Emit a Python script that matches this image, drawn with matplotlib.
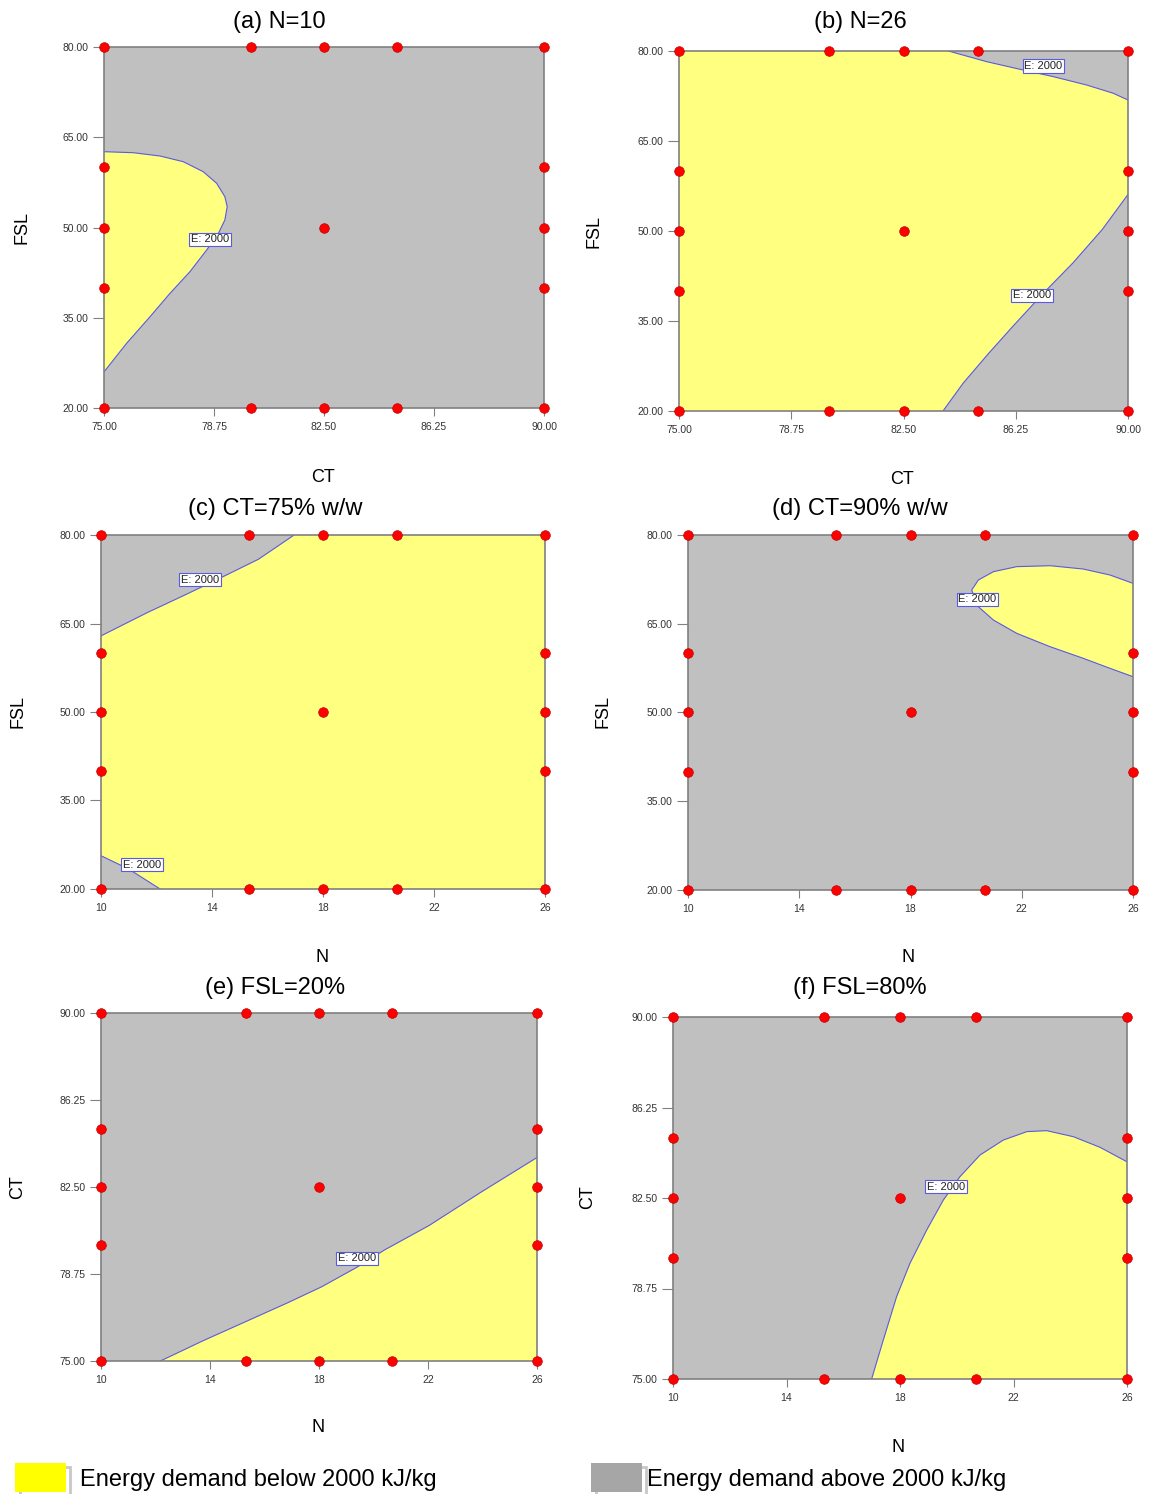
import matplotlib
matplotlib.use("Agg")
import matplotlib.pyplot as plt
from matplotlib.patches import Polygon, Rectangle

plt.rcParams['font.family'] = ['Liberation Sans', 'DejaVu Sans']

# ------------------------------
# data
# ------------------------------
# design points (same layout in every panel: 5 along top/bottom, 3 on each side, 1 centre)
ct_levels = [75, 80, 82.5, 85, 90]
fsl_levels = [20, 40, 50, 60, 80]
n_levels = [10, 15.33, 18, 20.67, 26]

# (a) N=10 : CT vs FSL, yellow pocket on the left
a_ct = [75.0, 76.0, 76.91, 77.70, 78.38, 78.84, 79.12, 79.20, 79.12, 78.90, 78.50, 77.93, 77.25,
        76.57, 75.77, 75.0]
a_fsl = [62.6, 62.43, 61.88, 60.94, 59.28, 57.35, 55.12, 53.46, 51.25, 49.03, 46.26, 42.66, 39.06,
         35.18, 30.75, 26.0]

# (b) N=26 : two grey corners on the right
b_top_ct = [84.0, 85.28, 86.39, 87.51, 88.62, 89.51, 90]
b_top_fsl = [80, 78.22, 76.95, 75.72, 74.33, 72.95, 71.83]
b_bot_ct = [83.82, 84.49, 85.35, 86.20, 87.18, 88.16, 89.14, 90]
b_bot_fsl = [20, 24.62, 29.64, 34.37, 39.67, 44.68, 50.25, 56.10]

# (c) CT=75 : N vs FSL, two grey corners on the left
c_top_n = [10, 11.67, 13.0, 14.33, 15.67, 16.96]
c_top_fsl = [62.9, 66.85, 69.78, 72.78, 75.88, 80]
c_bot_n = [10, 11.0, 12.13]
c_bot_fsl = [25.64, 23.38, 20]

# (d) CT=90 : yellow lobe at upper right
d_n = [26.0, 25.17, 24.21, 23.02, 21.82, 20.98, 20.44, 20.20, 20.44, 20.98, 21.82, 23.02, 24.21,
       25.17, 26.0]
d_fsl = [71.83, 73.24, 74.25, 74.81, 74.65, 73.80, 72.39, 70.70, 67.88, 65.63, 63.38, 61.12, 59.16,
         57.47, 56.05]

# (e) FSL=20 : N vs CT
e_n = [12.18, 13.74, 15.24, 16.87, 18.10, 19.39, 20.41, 22.04, 23.95, 26]
e_ct = [75.0, 75.87, 76.66, 77.52, 78.20, 79.04, 79.79, 80.84, 82.28, 83.77]

# (f) FSL=80 : N vs CT
f_n = [17.0, 17.41, 17.88, 18.35, 18.94, 19.53, 20.11, 20.82, 21.64, 22.47, 23.17, 24.11, 25.05, 26.0]
f_ct = [75.0, 76.61, 78.41, 79.79, 81.17, 82.42, 83.38, 84.28, 84.90, 85.25, 85.29, 85.04, 84.60, 84.0]

# "E: 2000" label positions
a_lab = [(78.61, 48.04)]
b_lab = [(87.17, 77.5), (86.79, 39.27)]
c_lab = [(13.57, 72.44), (11.47, 24.12)]
d_lab = [(20.41, 69.12)]
e_lab = [(19.39, 79.43)]
f_lab = [(19.62, 82.97)]

ct_ticks = [75, 78.75, 82.5, 86.25, 90]
fsl_ticks = [20, 35, 50, 65, 80]
n_ticks = [10, 14, 18, 22, 26]

YELLOW = "#FFFF80"
GREY = "#C0C0C0"
LINE = "#5A5AE0"

W, H = 1150, 1494
fig = plt.figure(figsize=(W / 100, H / 100), dpi=100)


def px_axes(l, t, r, b):
    return fig.add_axes([l / W, 1 - b / H, (r - l) / W, (b - t) / H])


def design_points(xl, yl):
    xs = xl + xl + [xl[0]] * 3 + [xl[-1]] * 3 + [xl[2]]
    ys = [yl[0]] * 5 + [yl[-1]] * 5 + yl[1:4] + yl[1:4] + [yl[2]]
    return xs, ys


def setup(ax, xl, yl, xt, yt, xfmt, yfmt, bg):
    ax.set_facecolor(bg)
    ax.set_xlim(xl[0], xl[-1])
    ax.set_ylim(yl[0], yl[-1])
    ax.set_xticks(xt)
    ax.set_yticks(yt)
    ax.set_xticklabels([xfmt % v for v in xt])
    ax.set_yticklabels([yfmt % v for v in yt])
    ax.tick_params(axis="x", length=6, pad=4, color="#808080", labelsize=7.5, labelcolor="#333333")
    ax.tick_params(axis="y", length=8, pad=3, color="#808080", labelsize=7.5, labelcolor="#333333")
    for s in ax.spines.values():
        s.set_color("#808080")
        s.set_linewidth(1.2)
        s.set_zorder(4)


def region(ax, xs, ys, extra, color):
    pts = list(zip(xs, ys)) + extra
    ax.add_patch(Polygon(pts, closed=True, facecolor=color, edgecolor="none", zorder=1))
    ax.plot(xs, ys, color=LINE, lw=0.8, zorder=2, solid_joinstyle="round")


def labels(ax, pos):
    for x, y in pos:
        ax.text(x, y, "E: 2000", fontsize=8, color="#222222", ha="center", va="center", zorder=5,
                bbox=dict(boxstyle="square,pad=0.15", fc="white", ec=LINE, lw=0.8))


def dots(ax, xl, yl):
    xs, ys = design_points(xl, yl)
    ax.scatter(xs, ys, s=48, color="#FF0000", edgecolors="#C00000", linewidths=0.5,
               zorder=6, clip_on=False)


def texts(title, tx, ty, xlab, xx, xy, ylab, yx, yy):
    fig.text(tx / W, 1 - ty / H, title, fontsize=17, ha="center", va="center")
    fig.text(xx / W, 1 - xy / H, xlab, fontsize=13, ha="center", va="center")
    fig.text(yx / W, 1 - yy / H, ylab, fontsize=13, ha="center", va="center", rotation=90)


# (a)
ax = px_axes(104, 47, 544, 408)
setup(ax, ct_levels, fsl_levels, ct_ticks, fsl_ticks, "%.2f", "%.2f", GREY)
region(ax, a_ct, a_fsl, [], YELLOW)
labels(ax, a_lab)
dots(ax, ct_levels, fsl_levels)
texts("(a) N=10", 279, 22, "CT", 323, 478, "FSL", 22, 228)

# (b)
ax = px_axes(679, 51, 1128, 411)
setup(ax, ct_levels, fsl_levels, ct_ticks, fsl_ticks, "%.2f", "%.2f", YELLOW)
region(ax, b_top_ct, b_top_fsl, [(90, 80)], GREY)
region(ax, b_bot_ct, b_bot_fsl, [(90, 20)], GREY)
labels(ax, b_lab)
dots(ax, ct_levels, fsl_levels)
texts("(b) N=26", 860, 22, "CT", 902, 480, "FSL", 594, 231)

# (c)
ax = px_axes(101, 535, 545, 889)
setup(ax, n_levels, fsl_levels, n_ticks, fsl_ticks, "%d", "%.2f", YELLOW)
region(ax, c_top_n, c_top_fsl, [(10, 80)], GREY)
region(ax, c_bot_n, c_bot_fsl, [(10, 20)], GREY)
labels(ax, c_lab)
dots(ax, n_levels, fsl_levels)
texts("(c) CT=75% w/w", 275, 509, "N", 322, 958, "FSL", 18, 712)

# (d)
ax = px_axes(688, 535, 1133, 890)
setup(ax, n_levels, fsl_levels, n_ticks, fsl_ticks, "%d", "%.2f", GREY)
region(ax, d_n, d_fsl, [], YELLOW)
labels(ax, d_lab)
dots(ax, n_levels, fsl_levels)
texts("(d) CT=90% w/w", 860, 509, "N", 908, 958, "FSL", 603, 712)

# (e)
ax = px_axes(101, 1013, 537, 1361)
setup(ax, n_levels, ct_levels, n_ticks, ct_ticks, "%d", "%.2f", GREY)
region(ax, e_n, e_ct, [(26, 75)], YELLOW)
labels(ax, e_lab)
dots(ax, n_levels, ct_levels)
texts("(e) FSL=20%", 275, 988, "N", 318, 1428, "CT", 18, 1187)

# (f)
ax = px_axes(673, 1017, 1127, 1379)
setup(ax, n_levels, ct_levels, n_ticks, ct_ticks, "%d", "%.2f", GREY)
region(ax, f_n, f_ct, [(26, 75)], YELLOW)
labels(ax, f_lab)
dots(ax, n_levels, ct_levels)
texts("(f) FSL=80%", 860, 988, "N", 898, 1448, "CT", 588, 1197)

# legend squares at the bottom
legend_items = [("Energy demand below 2000 kJ/kg", "#FFFF00", 15, 80),
                ("Energy demand above 2000 kJ/kg", "#A6A6A6", 591, 647)]
for txt, col, x0, tx in legend_items:
    fig.patches.append(Rectangle(((x0 + 5) / W, 1 - 1496 / H), 50 / W, 29 / H,
                                 transform=fig.transFigure, facecolor="white",
                                 edgecolor="#C8C8C8", lw=2))
    fig.patches.append(Rectangle((x0 / W, 1 - 1492 / H), 51 / W, 29 / H,
                                 transform=fig.transFigure, facecolor=col, edgecolor="none"))
    fig.text(tx / W, 1 - 1480 / H, txt, fontsize=17, ha="left", va="center")

fig.savefig("out.png", dpi=100)
